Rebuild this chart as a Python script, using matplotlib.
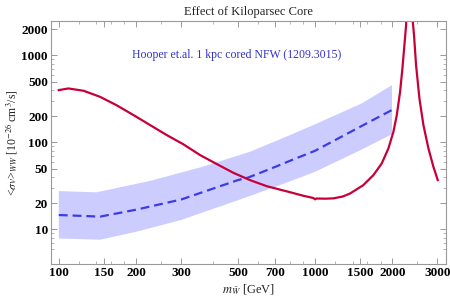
import matplotlib
matplotlib.use("Agg")
import matplotlib.pyplot as plt
from matplotlib.ticker import FixedLocator, LogLocator, NullFormatter, FixedFormatter

plt.rcParams["font.family"] = ["Liberation Serif", "DejaVu Serif"]
plt.rcParams["mathtext.fontset"] = "stix"

# Red curve: predicted <sigma v>_WW vs wino mass (resonance near 2.3 TeV)
red_mass = [100, 109, 125, 145, 168, 196, 227, 264, 306, 356, 414, 480, 557,
            648, 787, 900, 985, 1000, 1012, 1100, 1179, 1280, 1369, 1542, 1689,
            1820, 1932, 2021, 2083, 2146, 2191, 2231, 2265, 2335, 2400, 2432,
            2477, 2553, 2646, 2768, 2895, 3010]
red_sigv = [398, 416, 391, 333, 267, 205, 158, 121, 95, 71.3, 56.1, 44.6, 36.8,
            31.3, 27.0, 24.3, 22.9, 22.1, 22.6, 22.5, 22.7, 23.8, 25.8, 32.2,
            42, 57.2, 85.1, 132, 205, 381, 706, 1310, 2223, 100000, 2600, 1708,
            771, 319, 158, 85.1, 52.3, 36.8]

# Hooper et al. 1 kpc cored NFW fit (central value)
fit_mass = [100, 145, 200, 300, 500, 550, 700, 800, 1000, 1500, 2021]
fit_sigv = [14.6, 14.0, 16.8, 22.0, 36.8, 39.5, 52.3, 61.5, 80, 151, 240]

# Band edges
upper_mass = [100, 140, 227, 356, 557, 798, 985, 1520, 1995]
upper_sigv = [27.5, 26.6, 36.0, 51.4, 77.8, 121, 158, 280, 454]
lower_mass = [100, 145, 200, 300, 500, 700, 1000, 1500, 1995]
lower_sigv = [7.85, 7.6, 9.36, 12.8, 21.6, 30.8, 45.8, 81, 124]

x_ticks = [100, 150, 200, 300, 500, 700, 1000, 1500, 2000, 3000]
y_ticks = [10, 20, 50, 100, 200, 500, 1000, 2000]

fig = plt.figure(figsize=(4.5, 3.02), dpi=100)
ax = fig.add_axes([0.1127, 0.126, 0.8783, 0.8055])

ax.fill(upper_mass + lower_mass[::-1], upper_sigv + lower_sigv[::-1],
        color="#ccccff", linewidth=0)
ax.plot(fit_mass, fit_sigv, color="#3c3ce6", linewidth=1.6,
        dashes=(4, 2.2))
ax.plot(red_mass, red_sigv, color="#c8003a", linewidth=1.6)

ax.set_xscale("log")
ax.set_yscale("log")
ax.set_xlim(93, 3240)
ax.set_ylim(4, 2500)

ax.xaxis.set_major_locator(FixedLocator(x_ticks))
ax.xaxis.set_major_formatter(FixedFormatter([str(t) for t in x_ticks]))
ax.xaxis.set_minor_locator(LogLocator(base=10, subs=[1.2, 1.4, 1.6, 1.8, 2.5, 4, 6, 8, 9]))
ax.xaxis.set_minor_formatter(NullFormatter())
ax.yaxis.set_major_locator(FixedLocator(y_ticks))
ax.yaxis.set_major_formatter(FixedFormatter([str(t) for t in y_ticks]))
ax.yaxis.set_minor_locator(LogLocator(base=10, subs=[3, 4, 6, 7, 8, 9]))
ax.yaxis.set_minor_formatter(NullFormatter())

ax.tick_params(which="both", direction="in", top=True, right=True,
               color="#999999")
ax.tick_params(which="major", length=4, width=0.7, labelsize=9.5, pad=2)
ax.tick_params(which="minor", length=2, width=0.5)
for lab in ax.get_xticklabels() + ax.get_yticklabels():
    lab.set_fontweight("bold")
for sp in ax.spines.values():
    sp.set_color("#999999")
    sp.set_linewidth(0.8)

ax.set_title("Effect of Kiloparsec Core", fontsize=9, color="#222222", pad=4)
ax.set_xlabel(r"$m_{\tilde{W}}$ [GeV]", fontsize=9, color="#222222", labelpad=3)
ax.set_ylabel(r"<$\sigma v$>$_{WW}$ [10$^{-26}$ cm$^3$/s]", fontsize=8.5,
              color="#222222", labelpad=2)

ax.text(0.47, 0.86, "Hooper et.al. 1 kpc cored NFW (1209.3015)",
        transform=ax.transAxes, ha="center", va="center", fontsize=8.5,
        color="#3333cc")

fig.savefig("out.png", dpi=100)
